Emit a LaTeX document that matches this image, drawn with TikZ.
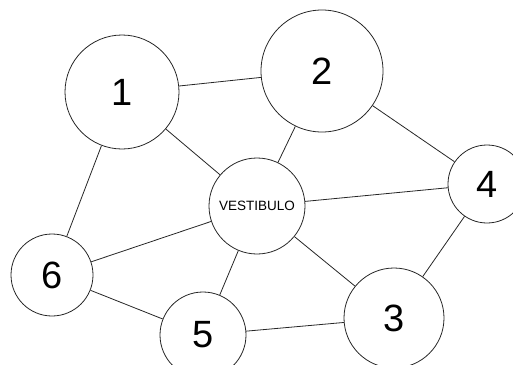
\documentclass[tikz,border=0pt]{standalone}
\usepackage{fontspec}
\setmainfont{Liberation Sans}
\usepackage{tikz}
\usetikzlibrary{positioning}

\begin{document}
\begin{tikzpicture}[
  x=1pt, y=-1pt,
  room/.style   ={circle, draw=black!85, line width=0.8pt, inner sep=0pt,
                  font=\fontsize{38}{40}\selectfont},
  hall/.style   ={circle, draw=black!85, line width=0.8pt, inner sep=0pt,
                  font=\fontsize{13.5}{15}\selectfont},
  link/.style   ={draw=black!85, line width=0.8pt}]

% the page is the 513 x 364 frame, circles at the rim are cut
\useasboundingbox (0,0) rectangle (513,364);
\clip (0,0) rectangle (513,364);

% ==========================  rooms  ==================================
\node[room, minimum size=114] (r1) at (122,92)  {1};
\node[room, minimum size=122] (r2) at (322,71)  {2};
\node[room, minimum size=78]  (r4) at (487,184) {4};
\node[room, minimum size=82]  (r6) at (52,275)  {6};
\node[room, minimum size=86]  (r5) at (203,335) {5};
\node[room, minimum size=100] (r3) at (394,318) {3};
\node[hall, minimum size=96]  (hv) at (257,206) {VESTIBULO};

% ==========================  links  ==================================
\draw[link] (r1) -- (r2);
\draw[link] (r1) -- (hv);
\draw[link] (r1) -- (r6);
\draw[link] (r2) -- (hv);
\draw[link] (r2) -- (r4);
\draw[link] (hv) -- (r4);
\draw[link] (hv) -- (r6);
\draw[link] (hv) -- (r5);
\draw[link] (hv) -- (r3);
\draw[link] (r4) -- (r3);
\draw[link] (r6) -- (r5);
\draw[link] (r5) -- (r3);

\end{tikzpicture}
\end{document}
